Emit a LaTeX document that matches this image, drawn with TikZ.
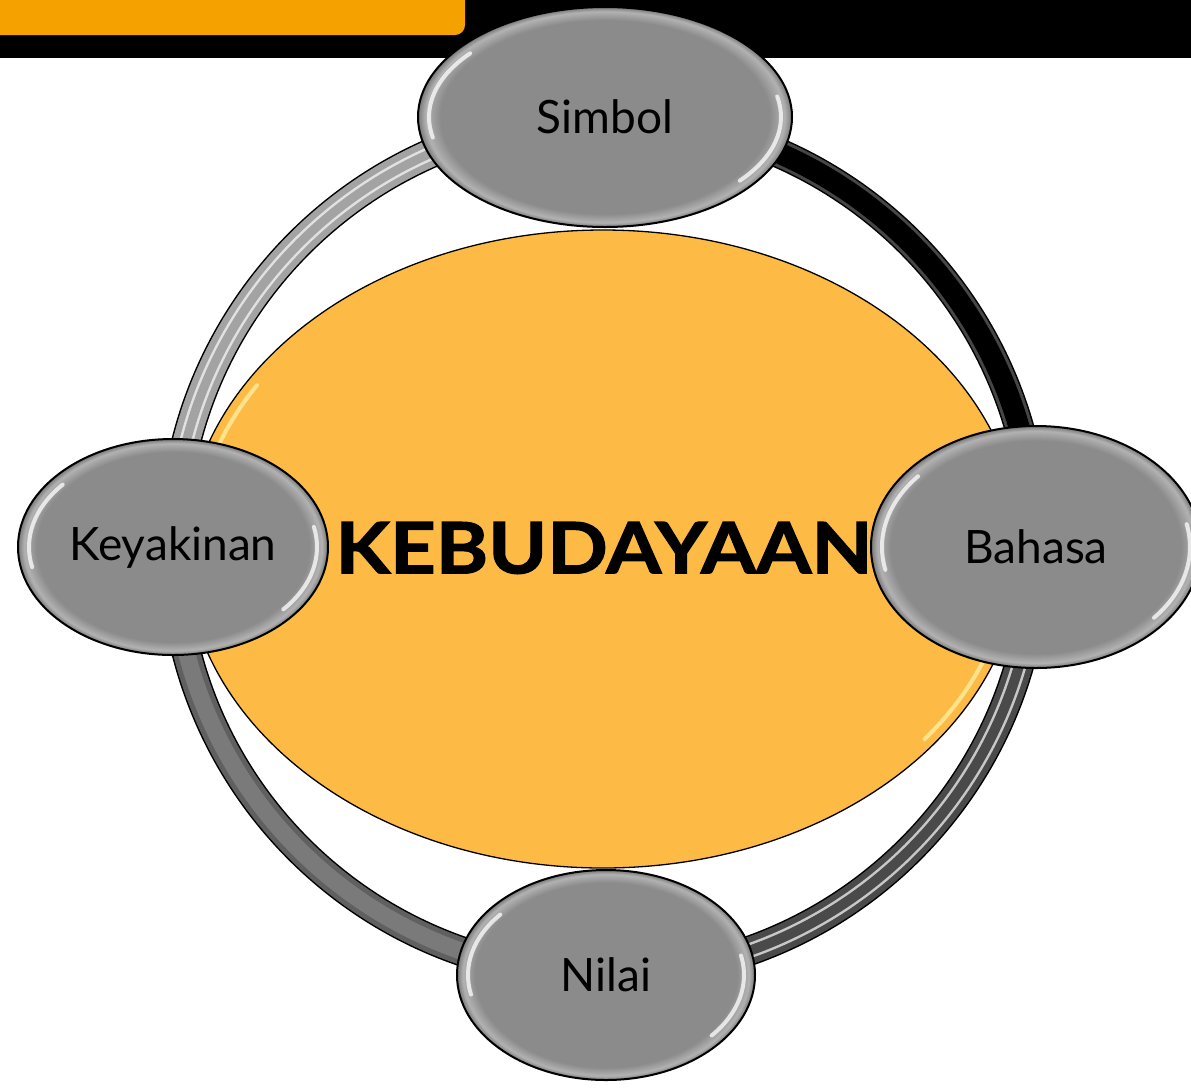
\documentclass[tikz,border=0pt]{standalone}
\usepackage{fontspec}
\setmainfont{Lato}
\newfontfamily\heavyfont{Lato}[BoldFeatures={FakeBold=1.6}]
\usetikzlibrary{shapes.geometric}
\pgfdeclarelayer{bg}
\pgfsetlayers{bg,main}
\definecolor{tabor}{RGB}{245,161,0}
\definecolor{coreor}{RGB}{253,187,70}
\definecolor{coreglow}{RGB}{255,232,150}
\definecolor{satg}{RGB}{139,139,139}
\definecolor{satl}{RGB}{178,178,178}
\definecolor{satd}{RGB}{120,120,120}
\definecolor{ringA}{RGB}{163,163,163}
\definecolor{ringAl}{RGB}{225,225,225}
\definecolor{ringB}{RGB}{70,70,70}
\definecolor{ringC}{RGB}{74,74,74}
\definecolor{ringCl}{RGB}{200,200,200}
\definecolor{ringD}{RGB}{96,96,96}
\definecolor{ringDl}{RGB}{122,122,122}
\pgfdeclareradialshading{bevel}{\pgfpoint{0bp}{0bp}}{color(0bp)=(satg); color(22bp)=(satg); color(24bp)=(satl); color(25bp)=(satd); color(50bp)=(satd)}
\newcommand\shine[3]{%
  \draw[shinestroke] ([shift={(140:#2pt and #3pt)}]#1.center) arc[start angle=140,end angle=192,x radius=#2pt,y radius=#3pt];
  \draw[shinestroke] ([shift={(-40:#2pt and #3pt)}]#1.center) arc[start angle=-40,end angle=12,x radius=#2pt,y radius=#3pt];
}
\begin{document}
\begin{tikzpicture}[x=1pt,y=-1pt,
  sat/.style={ellipse, inner sep=0pt, draw=black, line width=2pt, shading=bevel,
    font=\fontsize{46}{50}\selectfont, text=black},
  core/.style={ellipse, inner sep=0pt, draw=black, line width=1.3pt, fill=coreor,
    minimum width=836pt, minimum height=638pt},
  titletext/.style={inner sep=0pt, font=\heavyfont\fontsize{71}{75}\selectfont\bfseries, text=black},
  shinestroke/.style={white, line width=4pt, line cap=round, opacity=.75},
  glowstroke/.style={coreglow, line width=4pt, line cap=round, opacity=.9},
  bandA/.style={draw=black, line width=30pt,
    postaction={draw=ringA, line width=27pt},
    postaction={draw=ringAl, line width=14pt},
    postaction={draw=ringA, line width=9pt}},
  bandB/.style={draw=black, line width=30pt,
    postaction={draw=ringB, line width=27pt},
    postaction={draw=black, line width=21pt}},
  bandC/.style={draw=black, line width=30pt,
    postaction={draw=ringC, line width=27pt},
    postaction={draw=ringCl, line width=15pt},
    postaction={draw=ringC, line width=10pt}},
  bandD/.style={draw=black, line width=30pt,
    postaction={draw=ringD, line width=27pt},
    postaction={draw=ringDl, line width=17pt}}
]
\useasboundingbox (0,0) rectangle (1191,1088);

% central ellipse and title
\node[core] (core) at (603,549) {};
\draw[glowstroke] ([shift={(148:408pt and 309pt)}]core.center) arc[start angle=148,end angle=176,x radius=408pt,y radius=309pt];
\draw[glowstroke] ([shift={(-38:408pt and 309pt)}]core.center) arc[start angle=-38,end angle=-14,x radius=408pt,y radius=309pt];
\node[titletext] (title) at (604,548) {\scalebox{1.12}[1]{KEBUDAYAAN}};

% satellites
\node[sat, minimum width=374pt, minimum height=220pt] (sim) at (605,117) {Simbol};
\node[sat, minimum width=310pt, minimum height=216pt] (key) at (173,547) {Keyakinan};
\node[sat, minimum width=330pt, minimum height=242pt] (bah) at (1036,547) {Bahasa};
\node[sat, minimum width=298pt, minimum height=210pt] (nil) at (606,975) {Nilai};
\shine{sim}{176}{99}
\shine{key}{144}{97}
\shine{bah}{154}{110}
\shine{nil}{138}{94}

\begin{pgfonlayer}{bg}
  \fill[white] (0,0) rectangle (1191,1088);
  \fill[black] (0,0) rectangle (1191,58);
  \fill[tabor, rounded corners=10pt] (-20,-20) rectangle (465,35);
  % ring connectors
  \draw[bandA] (key.center) to[bend left=45] (sim.center);
  \draw[bandB] (sim.center) to[bend left=45] (bah.center);
  \draw[bandC] (bah.center) to[bend left=45] (nil.center);
  \draw[bandD] (nil.center) to[bend left=45] (key.center);
\end{pgfonlayer}
\end{tikzpicture}
\end{document}
